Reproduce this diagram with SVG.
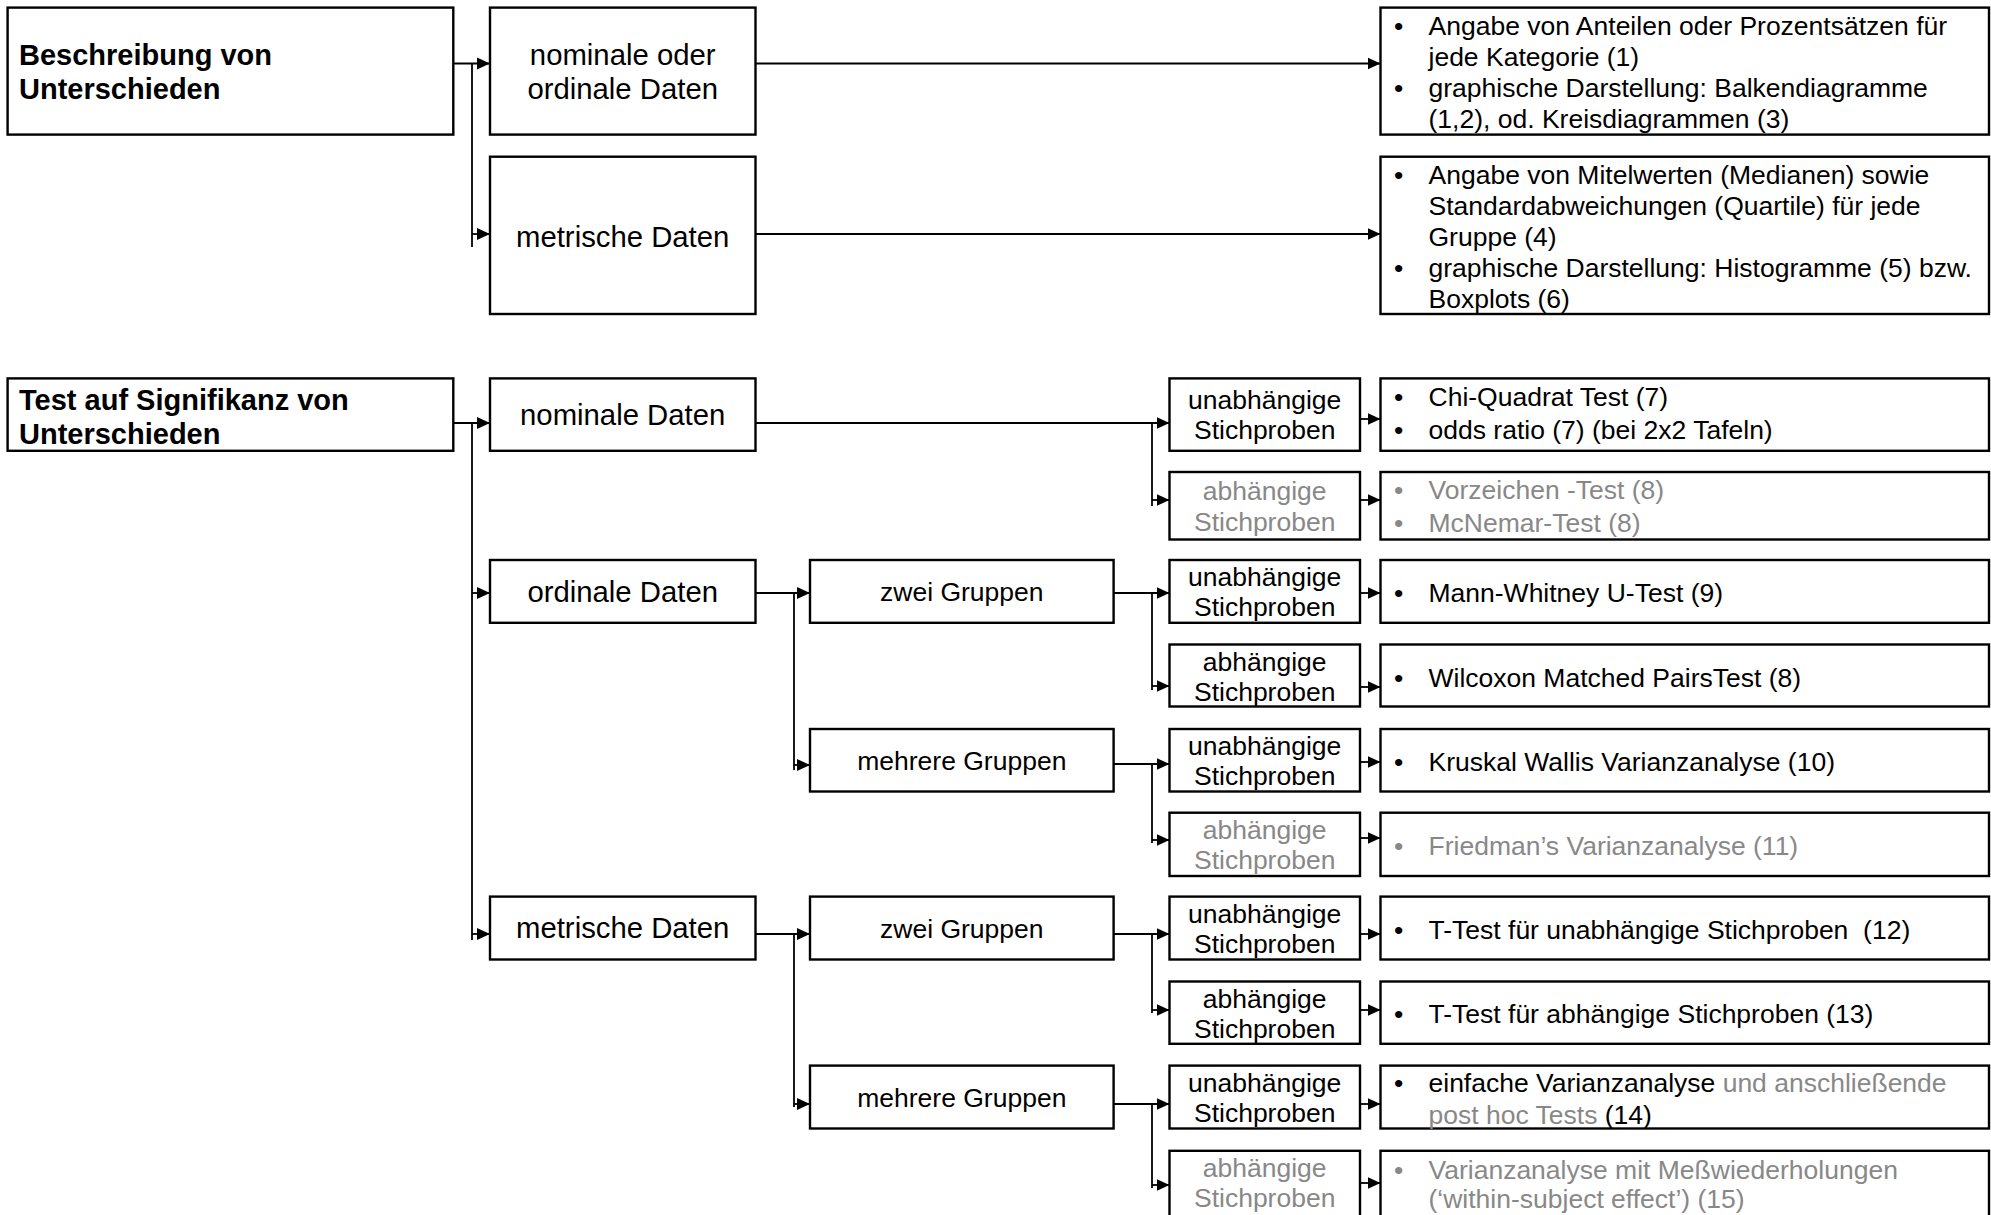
<svg xmlns="http://www.w3.org/2000/svg" width="1991" height="1215" viewBox="0 0 1991 1215">
<defs>
<style>
.bx{fill:#fff;stroke:#000;stroke-width:2.4}
.cn path{fill:none;stroke:#000;stroke-width:1.8}
.ar{marker-end:url(#ah)}
text{font-family:"Liberation Sans",Arial,sans-serif;fill:#000}
.b{font-weight:bold;font-size:29px}
.l{font-size:29.3px;text-anchor:middle}
.m{font-size:26.5px;text-anchor:middle}
.d{font-size:26.5px}
.g{fill:#888}
</style>
<marker id="ah" markerUnits="userSpaceOnUse" markerWidth="13" markerHeight="13" viewBox="0 0 13 13" refX="13" refY="6.5" orient="auto"><path d="M0,0.5 L13,6.5 L0,12.5 Z" fill="#000"/></marker>
</defs>
<rect width="1991" height="1215" fill="#fff"/>

<g class="cn" id="connectors">
<path class="ar" d="M453.3,63.5 H490"/>
<path d="M472,63.5 V247"/>
<path class="ar" d="M472,234 H490"/>
<path class="ar" d="M755.5,63.5 H1380.5"/>
<path class="ar" d="M755.5,234 H1380.5"/>

<path class="ar" d="M453.3,423 H490"/>
<path d="M472,423 V940"/>
<path class="ar" d="M472,593 H490"/>
<path class="ar" d="M472,934 H490"/>

<path class="ar" d="M755.5,423 H1169.5"/>
<path d="M1152,423 V506"/>
<path class="ar" d="M1152,500 H1169.5"/>

<path class="ar" d="M755.5,593 H810"/>
<path d="M794,593 V770"/>
<path class="ar" d="M794,765 H810"/>
<path class="ar" d="M1113.6,593 H1169.5"/>
<path d="M1152,593 V690"/>
<path class="ar" d="M1152,686 H1169.5"/>
<path class="ar" d="M1113.6,764 H1169.5"/>
<path d="M1152,764 V843"/>
<path class="ar" d="M1152,840 H1169.5"/>

<path class="ar" d="M755.5,934 H810"/>
<path d="M794,934 V1107"/>
<path class="ar" d="M794,1104 H810"/>
<path class="ar" d="M1113.6,934 H1169.5"/>
<path d="M1152,934 V1013"/>
<path class="ar" d="M1152,1010 H1169.5"/>
<path class="ar" d="M1113.6,1104 H1169.5"/>
<path d="M1152,1104 V1188"/>
<path class="ar" d="M1152,1185 H1169.5"/>

<path class="ar" d="M1360,419 H1380.5"/>
<path class="ar" d="M1360,500 H1380.5"/>
<path class="ar" d="M1360,593 H1380.5"/>
<path class="ar" d="M1360,687 H1380.5"/>
<path class="ar" d="M1360,762 H1380.5"/>
<path class="ar" d="M1360,838 H1380.5"/>
<path class="ar" d="M1360,934 H1380.5"/>
<path class="ar" d="M1360,1010 H1380.5"/>
<path class="ar" d="M1360,1104 H1380.5"/>
<path class="ar" d="M1360,1183 H1380.5"/>
</g>

<!-- top section -->
<g id="beschreibung"><rect class="bx" x="7.6" y="7.6" width="445.7" height="127"/>
<text class="b" x="19" y="64.5">Beschreibung von</text><text class="b" x="19" y="99">Unterschieden</text></g>
<g id="nom-ord"><rect class="bx" x="490" y="7.6" width="265.5" height="127"/>
<text class="l" x="622.7" y="64.5">nominale oder</text><text class="l" x="622.7" y="98.5">ordinale Daten</text></g>
<g id="metr-top"><rect class="bx" x="490" y="156.7" width="265.5" height="157.3"/>
<text class="l" x="622.7" y="246.5">metrische Daten</text></g>
<g id="desc1"><rect class="bx" x="1380.5" y="7.6" width="608.5" height="127"/>
<text class="d"><tspan x="1394" y="34.5">•</tspan><tspan x="1428.5" y="34.5">Angabe von Anteilen oder Prozentsätzen für</tspan><tspan x="1428.5" y="65.5">jede Kategorie (1)</tspan><tspan x="1394" y="96.5">•</tspan><tspan x="1428.5" y="96.5">graphische Darstellung: Balkendiagramme</tspan><tspan x="1428.5" y="127.5">(1,2), od. Kreisdiagrammen (3)</tspan></text></g>
<g id="desc2"><rect class="bx" x="1380.5" y="156.7" width="608.5" height="157.3"/>
<text class="d"><tspan x="1394" y="183.5">•</tspan><tspan x="1428.5" y="183.5">Angabe von Mitelwerten (Medianen) sowie</tspan><tspan x="1428.5" y="214.5">Standardabweichungen (Quartile) für jede</tspan><tspan x="1428.5" y="245.5">Gruppe (4)</tspan><tspan x="1394" y="276.5">•</tspan><tspan x="1428.5" y="276.5">graphische Darstellung: Histogramme (5) bzw.</tspan><tspan x="1428.5" y="307.5">Boxplots (6)</tspan></text></g>

<!-- bottom section -->
<g id="test"><rect class="bx" x="7.6" y="378.4" width="445.7" height="72.4"/>
<text class="b" x="19" y="410">Test auf Signifikanz von</text><text class="b" x="19" y="443.5">Unterschieden</text></g>
<g id="nominal"><rect class="bx" x="490" y="378.4" width="265.5" height="72.4"/>
<text class="l" x="622.7" y="425">nominale Daten</text></g>
<g id="ordinal"><rect class="bx" x="490" y="560" width="265.5" height="62.8"/>
<text class="l" x="622.7" y="601.5">ordinale Daten</text></g>
<g id="metrisch"><rect class="bx" x="490" y="896.6" width="265.5" height="62.9"/>
<text class="l" x="622.7" y="938">metrische Daten</text></g>

<g id="ord-zwei"><rect class="bx" x="810" y="560" width="303.6" height="62.8"/>
<text class="m" x="961.8" y="600.5">zwei Gruppen</text></g>
<g id="ord-mehrere"><rect class="bx" x="810" y="729" width="303.6" height="62.5"/>
<text class="m" x="961.8" y="769.5">mehrere Gruppen</text></g>
<g id="met-zwei"><rect class="bx" x="810" y="896.6" width="303.6" height="62.9"/>
<text class="m" x="961.8" y="937.5">zwei Gruppen</text></g>
<g id="met-mehrere"><rect class="bx" x="810" y="1065.6" width="303.6" height="62.9"/>
<text class="m" x="961.8" y="1106.5">mehrere Gruppen</text></g>

<g id="s1"><rect class="bx" x="1169.5" y="378.4" width="190.5" height="72.4"/>
<text class="m"><tspan x="1264.7" y="408.5">unabhängige</tspan><tspan x="1264.7" y="439">Stichproben</tspan></text></g>
<g id="s2"><rect class="bx" x="1169.5" y="472" width="190.5" height="67.5"/>
<text class="m g"><tspan x="1264.7" y="499.5">abhängige</tspan><tspan x="1264.7" y="530.5">Stichproben</tspan></text></g>
<g id="s3"><rect class="bx" x="1169.5" y="560" width="190.5" height="62.8"/>
<text class="m"><tspan x="1264.7" y="586">unabhängige</tspan><tspan x="1264.7" y="616">Stichproben</tspan></text></g>
<g id="s4"><rect class="bx" x="1169.5" y="644.5" width="190.5" height="62"/>
<text class="m"><tspan x="1264.7" y="670.5">abhängige</tspan><tspan x="1264.7" y="700.5">Stichproben</tspan></text></g>
<g id="s5"><rect class="bx" x="1169.5" y="729" width="190.5" height="62.5"/>
<text class="m"><tspan x="1264.7" y="755">unabhängige</tspan><tspan x="1264.7" y="785">Stichproben</tspan></text></g>
<g id="s6"><rect class="bx" x="1169.5" y="812.7" width="190.5" height="63.3"/>
<text class="m g"><tspan x="1264.7" y="839">abhängige</tspan><tspan x="1264.7" y="869">Stichproben</tspan></text></g>
<g id="s7"><rect class="bx" x="1169.5" y="896.6" width="190.5" height="62.9"/>
<text class="m"><tspan x="1264.7" y="922.5">unabhängige</tspan><tspan x="1264.7" y="952.5">Stichproben</tspan></text></g>
<g id="s8"><rect class="bx" x="1169.5" y="981.5" width="190.5" height="62.3"/>
<text class="m"><tspan x="1264.7" y="1007.5">abhängige</tspan><tspan x="1264.7" y="1037.5">Stichproben</tspan></text></g>
<g id="s9"><rect class="bx" x="1169.5" y="1065.6" width="190.5" height="62.9"/>
<text class="m"><tspan x="1264.7" y="1091.5">unabhängige</tspan><tspan x="1264.7" y="1121.5">Stichproben</tspan></text></g>
<g id="s10"><rect class="bx" x="1169.5" y="1150.8" width="190.5" height="70"/>
<text class="m g"><tspan x="1264.7" y="1177">abhängige</tspan><tspan x="1264.7" y="1207">Stichproben</tspan></text></g>

<g id="t1"><rect class="bx" x="1380.5" y="378.4" width="608.5" height="72.4"/>
<text class="d"><tspan x="1394" y="406">•</tspan><tspan x="1428.5" y="406">Chi-Quadrat Test (7)</tspan><tspan x="1394" y="438.5">•</tspan><tspan x="1428.5" y="438.5">odds ratio (7) (bei 2x2 Tafeln)</tspan></text></g>
<g id="t2"><rect class="bx" x="1380.5" y="472" width="608.5" height="67.5"/>
<text class="d g"><tspan x="1394" y="499">•</tspan><tspan x="1428.5" y="499">Vorzeichen -Test (8)</tspan><tspan x="1394" y="531.5">•</tspan><tspan x="1428.5" y="531.5">McNemar-Test (8)</tspan></text></g>
<g id="t3"><rect class="bx" x="1380.5" y="560" width="608.5" height="62.8"/>
<text class="d"><tspan x="1394" y="602">•</tspan><tspan x="1428.5" y="602">Mann-Whitney U-Test (9)</tspan></text></g>
<g id="t4"><rect class="bx" x="1380.5" y="644.5" width="608.5" height="62"/>
<text class="d"><tspan x="1394" y="687">•</tspan><tspan x="1428.5" y="687">Wilcoxon Matched PairsTest (8)</tspan></text></g>
<g id="t5"><rect class="bx" x="1380.5" y="729" width="608.5" height="62.5"/>
<text class="d"><tspan x="1394" y="771">•</tspan><tspan x="1428.5" y="771">Kruskal Wallis Varianzanalyse (10)</tspan></text></g>
<g id="t6"><rect class="bx" x="1380.5" y="812.7" width="608.5" height="63.3"/>
<text class="d g"><tspan x="1394" y="855">•</tspan><tspan x="1428.5" y="855">Friedman’s Varianzanalyse (11)</tspan></text></g>
<g id="t7"><rect class="bx" x="1380.5" y="896.6" width="608.5" height="62.9"/>
<text class="d" xml:space="preserve"><tspan x="1394" y="939">•</tspan><tspan x="1428.5" y="939">T-Test für unabhängige Stichproben  (12)</tspan></text></g>
<g id="t8"><rect class="bx" x="1380.5" y="981.5" width="608.5" height="62.3"/>
<text class="d"><tspan x="1394" y="1023">•</tspan><tspan x="1428.5" y="1023">T-Test für abhängige Stichproben (13)</tspan></text></g>
<g id="t9"><rect class="bx" x="1380.5" y="1065.6" width="608.5" height="62.9"/>
<text class="d"><tspan x="1394" y="1092">•</tspan><tspan x="1428.5" y="1092">einfache Varianzanalyse</tspan><tspan class="g"> und anschließende</tspan><tspan class="g" x="1428.5" y="1123.5">post hoc Tests</tspan><tspan> (14)</tspan></text></g>
<g id="t10"><rect class="bx" x="1380.5" y="1150.8" width="608.5" height="70"/>
<text class="d g"><tspan x="1394" y="1178.5">•</tspan><tspan x="1428.5" y="1178.5">Varianzanalyse mit Meßwiederholungen</tspan><tspan x="1428.5" y="1208">(‘within-subject effect’) (15)</tspan></text></g>
</svg>
